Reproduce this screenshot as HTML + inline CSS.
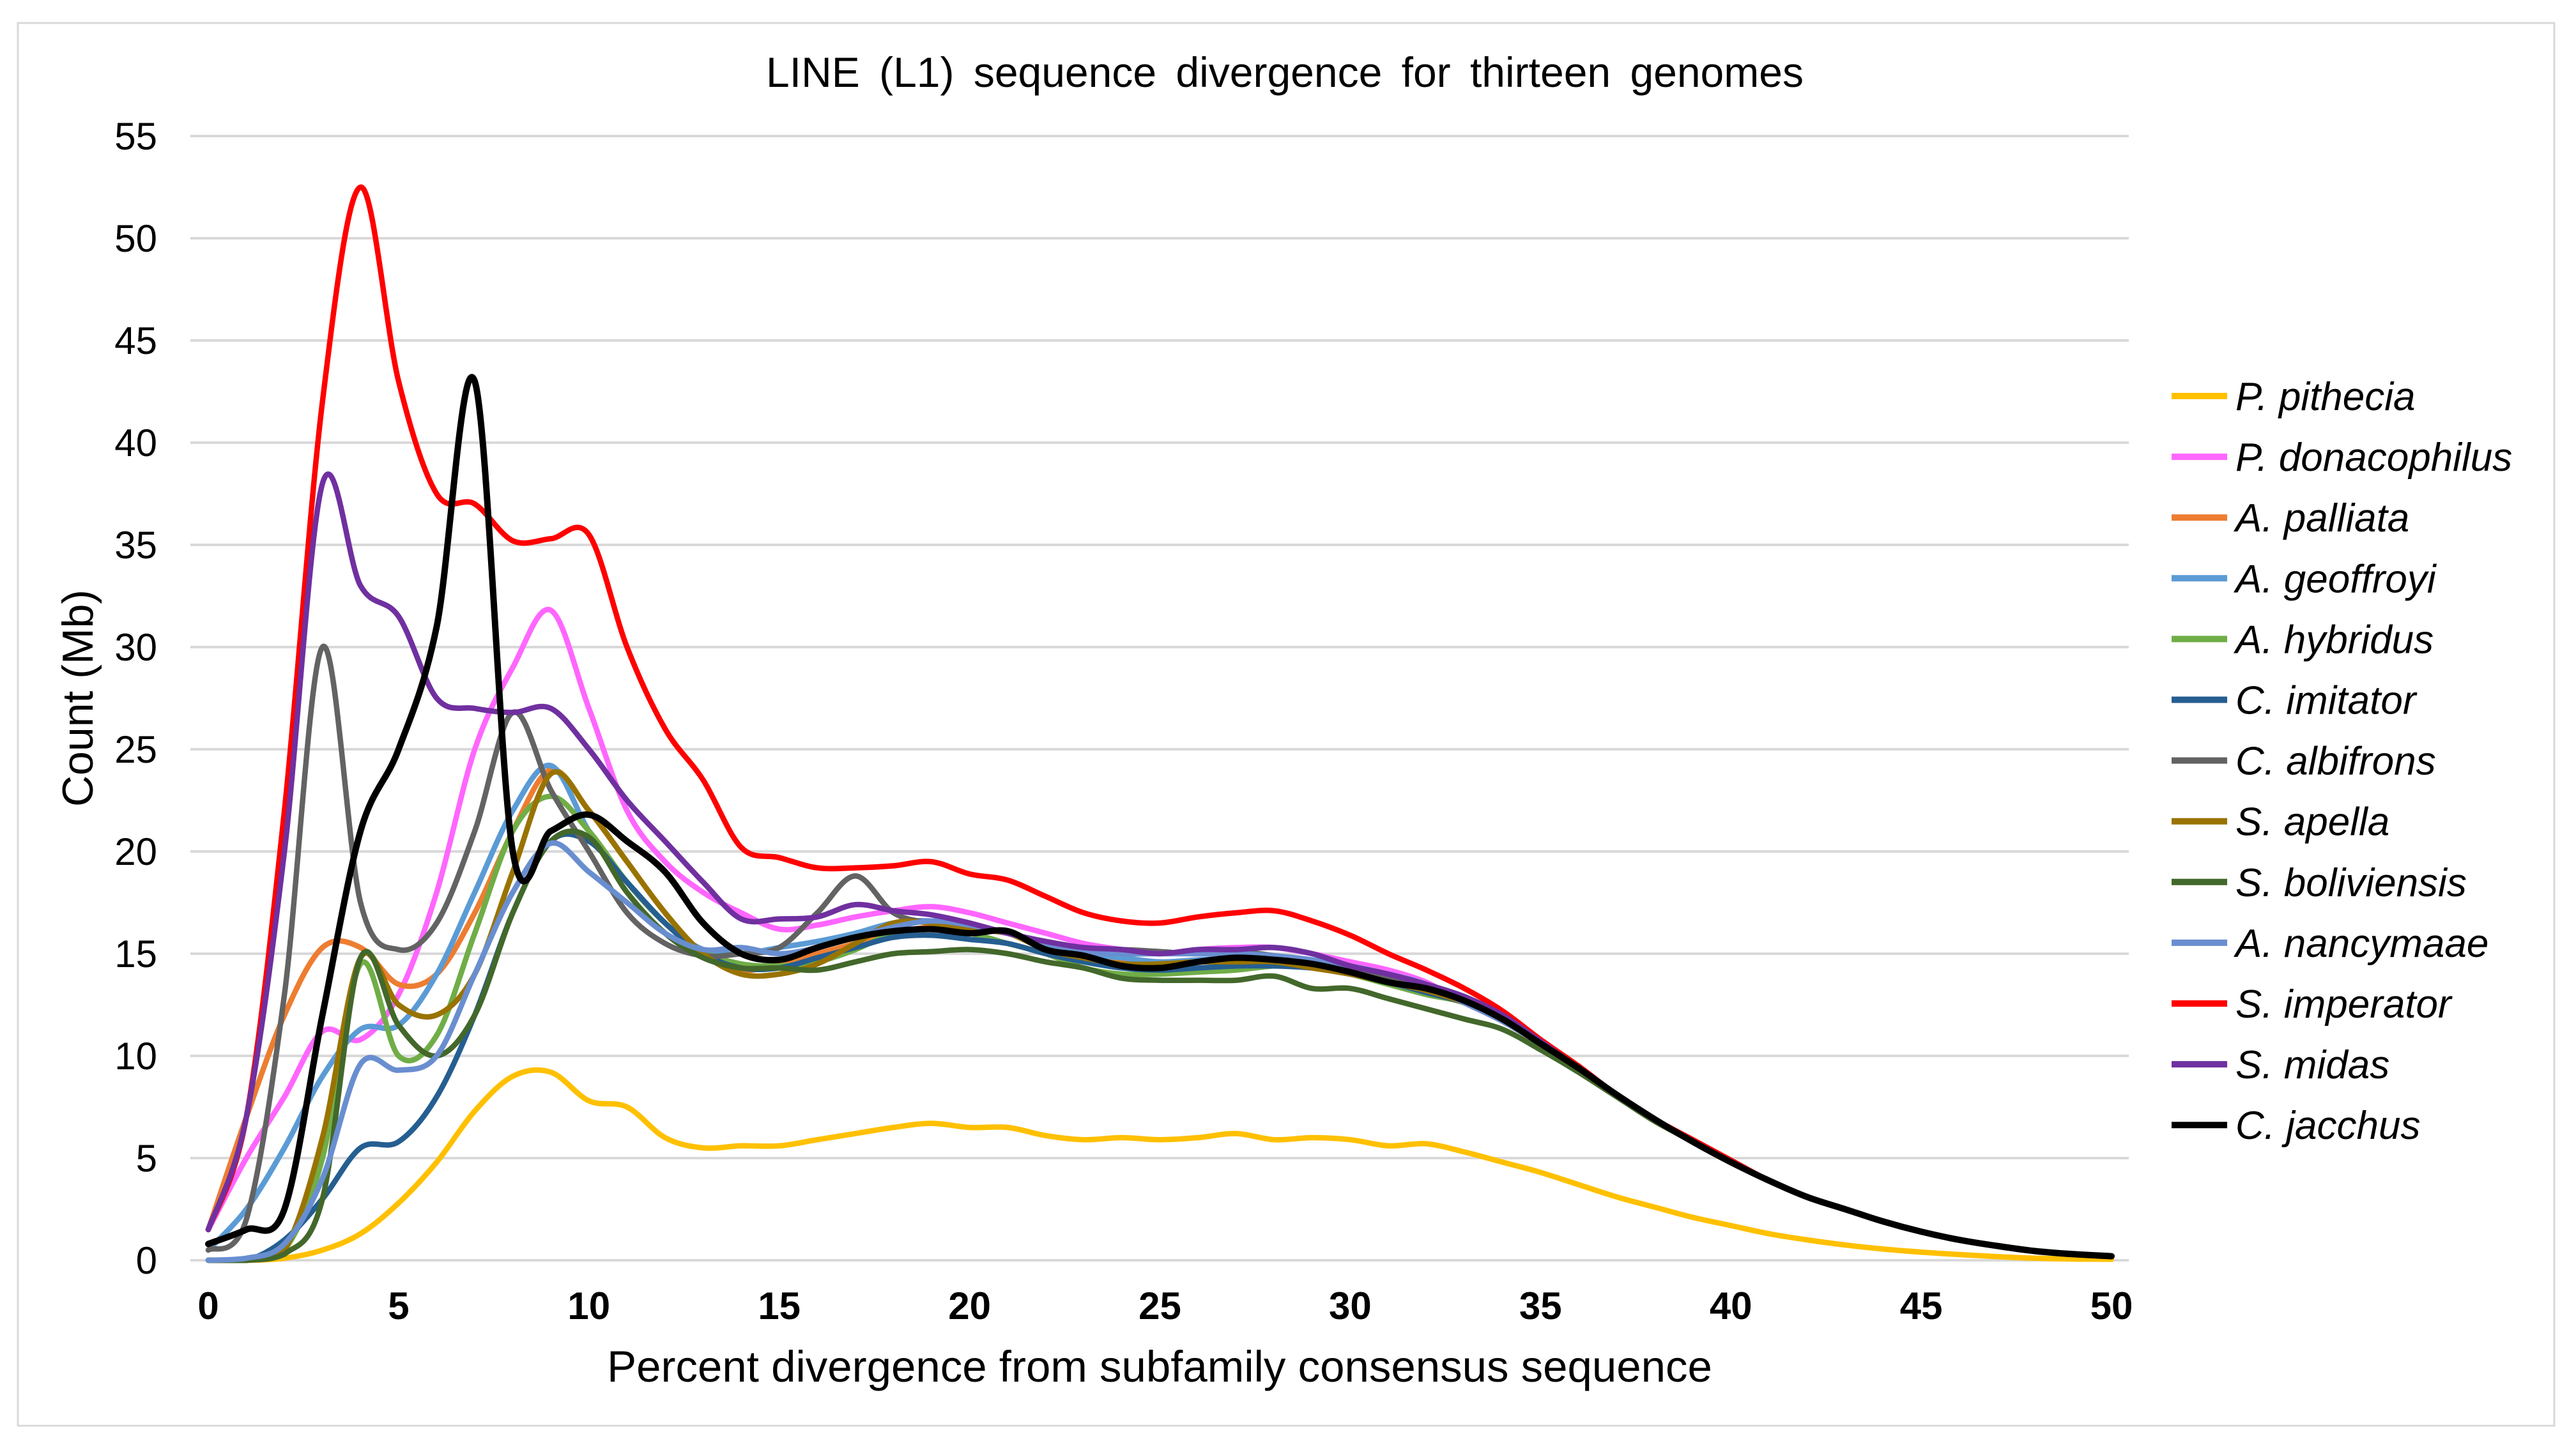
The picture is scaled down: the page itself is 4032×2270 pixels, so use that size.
<!DOCTYPE html>
<html><head><meta charset="utf-8"><style>
html,body{margin:0;padding:0;background:#fff;}
svg{display:block;font-family:"Liberation Sans",Arial,sans-serif;}
</style></head><body>
<svg id="chart" width="4032" height="2270" viewBox="0 0 4032 2270" xmlns="http://www.w3.org/2000/svg">
<rect x="28" y="36" width="3970" height="2196" fill="#fff" stroke="#d9d9d9" stroke-width="3"/>
<text x="2011" y="136" font-size="66" word-spacing="12" text-anchor="middle" fill="#000">LINE (L1) sequence divergence for thirteen genomes</text>
<text x="1815" y="2163" font-size="69" text-anchor="middle" fill="#000">Percent divergence from subfamily consensus sequence</text>
<text x="0" y="0" font-size="68" text-anchor="middle" fill="#000" transform="translate(145,1093) rotate(-90)">Count (Mb)</text>
<g id="grid"></g><g id="yticks"></g><g id="xticks"></g><g id="series"></g><g id="legend"></g>
</svg>
<script>
const xTicks=[0,5,10,15,20,25,30,35,40,45,50];
const yTicks=[0,5,10,15,20,25,30,35,40,45,50,55];
const xs=[0,1,2,3,4,5,6,7,8,9,10,11,12,13,14,15,16,17,18,19,20,21,22,23,24,25,26,27,28,29,30,31,32,33,34,35,36,37,38,39,40,41,42,43,44,45,46,47,48,49,50];
const tail33=[12.6,11.7,10.6,9.4,8.1,6.9,5.8,4.8,3.9,3.1,2.5,1.9,1.4,1.0,0.7,0.45,0.3,0.2];
const names=["P. pithecia","P. donacophilus","A. palliata","A. geoffroyi","A. hybridus","C. imitator","C. albifrons","S. apella","S. boliviensis","A. nancymaae","S. imperator","S. midas","C. jacchus"];
const colors=["#FFC000","#FF66FF","#ED7D31","#5B9BD5","#70AD47","#255E91","#636363","#997300","#43682B","#698ED0","#FF0000","#7030A0","#000000"];
const pPithecia=[0,0,0.1,0.5,1.3,2.8,4.8,7.3,9.0,9.2,7.8,7.5,6.0,5.5,5.6,5.6,5.9,6.2,6.5,6.7,6.5,6.5,6.1,5.9,6.0,5.9,6.0,6.2,5.9,6.0,5.9,5.6,5.7,5.3,4.8,4.3,3.7,3.1,2.6,2.1,1.7,1.3,1.0,0.75,0.55,0.4,0.28,0.18,0.1,0.06,0.05];
const pDonacophilus=[1.5,5,8,11.2,10.8,13,18,25,29,31.8,27,22,19.5,18,17,16.2,16.4,16.8,17.1,17.3,17,16.5,16,15.5,15.2,15,15.2,15.3,15.3,15,14.6,14.2,13.6].concat(tail33);
const aPalliata=[1.5,7,12,15.3,15.3,13.5,14,17,21,24,22,19.5,17,15,14.2,14.5,15,15.5,16,16.3,16.2,16,15.5,15,14.7,14.5,14.6,14.6,14.5,14.5,14.1,13.7,13.3].concat(tail33);
const aGeoffroyi=[0.5,2.5,5.5,9,11.3,11.5,14,18,22,24.2,21,18.5,16.5,15.2,15,15.3,15.6,16,16.5,16.6,16.3,16,15.5,15,14.8,14.6,14.7,14.8,14.8,14.6,14.3,14.0,13.5].concat(tail33);
const aHybridus=[0,0,0.5,5,14.5,10,11,16,21,22.7,21,18.5,16.5,15.1,14.5,14.4,14.6,15.2,16,16.2,16,15.5,15,14.3,14,14,14.1,14.2,14.4,14.4,14,13.5,13].concat(tail33);
const cImitator=[0,0,1,3,5.5,5.8,8,12,17,20.5,20.5,18.5,16.5,15,14.3,14.3,14.8,15.3,15.8,15.9,15.7,15.5,15,14.6,14.3,14.2,14.3,14.4,14.4,14.3,14,13.6,13.1].concat(tail33);
const cAlbifrons=[0.5,2,13,30,17.5,15.2,16.5,21,26.8,23,20,17,15.5,14.9,15,15.3,17,18.8,17,16.5,16.3,16,15.5,15.2,15.2,15.1,15,15.1,14.9,14.6,14.2,13.8,13.3].concat(tail33);
const sApella=[0,0,0.5,6,14.8,12.5,12,14,19,23.8,22,19.5,17,15,14,14,14.5,15.5,16.5,16.5,16.2,16,15.2,14.8,14.5,14.5,14.6,14.6,14.6,14.3,14,13.6,13.2].concat(tail33);
const sBoliviensis=[0,0,0.3,3,14.8,11.5,10,12,17,20.5,20.7,18,16,14.8,14.3,14.3,14.2,14.6,15,15.1,15.2,15,14.6,14.3,13.8,13.7,13.7,13.7,13.9,13.3,13.3,12.8,12.3,11.8,11.3,10.3,9.2,8.0,6.8,5.8,4.8,3.9,3.1,2.5,1.9,1.4,1.0,0.7,0.45,0.3,0.2];
const aNancymaae=[0,0.1,0.8,4,9.6,9.3,10,14,18,20.4,19,17.5,16,15.2,15.3,15,15.3,15.8,16.3,16.6,16.4,16,15.5,15.1,15,15,15,15,14.9,14.7,14.4,14,13.5].concat(tail33);
const sImperator=[1.5,7,22,42,52.5,43,37.5,37,35.2,35.3,35.5,30,26,23.5,20.2,19.7,19.2,19.2,19.3,19.5,18.9,18.6,17.8,17.0,16.6,16.5,16.8,17.0,17.1,16.6,15.9,15.0,14.2,13.3,12.2,10.8,9.5,8.1,6.9,5.9,4.9,3.9,3.1,2.5,1.9,1.4,1.0,0.7,0.45,0.3,0.2];
const sMidas=[1.5,7,20,38,33,31.5,27.5,27,26.8,27,25,22.5,20.5,18.5,16.7,16.7,16.8,17.4,17.1,16.9,16.5,16.0,15.6,15.3,15.2,15.0,15.2,15.2,15.3,15.0,14.4,14.0,13.5,12.9,12.0,10.7,9.4,8.1,6.9,5.8,4.8,3.9,3.1,2.5,1.9,1.4,1.0,0.7,0.45,0.3,0.2];
const cJacchus=[0.8,1.5,2.5,12,21,25,31,43,20,21,21.8,20.5,19,16.5,15,14.7,15.3,15.8,16.1,16.2,16,16.1,15.2,14.9,14.4,14.3,14.6,14.8,14.7,14.5,14.1,13.6,13.3,12.7,11.8,10.6,9.4,8.1,6.9,5.8,4.8,3.9,3.1,2.5,1.9,1.4,1.0,0.7,0.45,0.3,0.2];
const seriesData=[pPithecia,pDonacophilus,aPalliata,aGeoffroyi,aHybridus,cImitator,cAlbifrons,sApella,sBoliviensis,aNancymaae,sImperator,sMidas,cJacchus];

const NS="http://www.w3.org/2000/svg";
const X0=326,X1=3305,Y0=1973,Y1=213;
function sx(v){return X0+(v-0)/(50-0)*(X1-X0);}
function sy(v){return Y0-(v-0)/(55-0)*(Y0-Y1);}
function mk(tag,attrs,parent){const e=document.createElementNS(NS,tag);for(const k in attrs)e.setAttribute(k,attrs[k]);parent.appendChild(e);return e;}
const grid=document.getElementById('grid'),yt=document.getElementById('yticks'),xt=document.getElementById('xticks'),sg=document.getElementById('series'),lg=document.getElementById('legend');
yTicks.forEach(v=>{
  const l=mk('line',{x1:298,x2:3332,y1:sy(v),y2:sy(v),stroke:'#d9d9d9','stroke-width':4},grid);
  
  
  const t=mk('text',{x:246,y:sy(v)+21,'font-size':60,'text-anchor':'end',fill:'#000'},yt);
  t.textContent=v;
  
  
});
xTicks.forEach(v=>{
  const t=mk('text',{x:sx(v),y:2065,'font-size':60,'font-weight':'bold','text-anchor':'middle',fill:'#000'},xt);
  t.textContent=v;
  
  
});
function smoothPath(pts){
  let d='M'+pts[0][0].toFixed(1)+','+pts[0][1].toFixed(1);
  for(let i=0;i<pts.length-1;i++){
    const p0=pts[i-1]||pts[i],p1=pts[i],p2=pts[i+1],p3=pts[i+2]||p2;
    const t=6;
    let c1=[p1[0]+(p2[0]-p0[0])/t,p1[1]+(p2[1]-p0[1])/t];
    let c2=[p2[0]-(p3[0]-p1[0])/t,p2[1]-(p3[1]-p1[1])/t];
    c1[1]=Math.min(c1[1],Y0);c2[1]=Math.min(c2[1],Y0);
    d+='C'+c1[0].toFixed(1)+','+c1[1].toFixed(1)+' '+c2[0].toFixed(1)+','+c2[1].toFixed(1)+' '+p2[0].toFixed(1)+','+p2[1].toFixed(1);
  }
  return d;
}
seriesData.forEach((arr,i)=>{
  const pts=arr.map((v,j)=>[sx(xs[j]),sy(v)]);
  const p=mk('path',{d:smoothPath(pts),fill:'none',stroke:colors[i],'stroke-width':i===12?10:8.5,'stroke-linejoin':'round','stroke-linecap':'round'},sg);
  
  
  const ly=620+i*95.1;
  const g=mk('g',{},lg);
  
  
  mk('line',{x1:3399,x2:3486,y1:ly,y2:ly,stroke:colors[i],'stroke-width':10},g);
  const t=mk('text',{x:3499,y:ly+22,'font-size':62,'font-style':'italic',fill:'#000'},g);
  t.textContent=names[i];
});
</script>
</body></html>
